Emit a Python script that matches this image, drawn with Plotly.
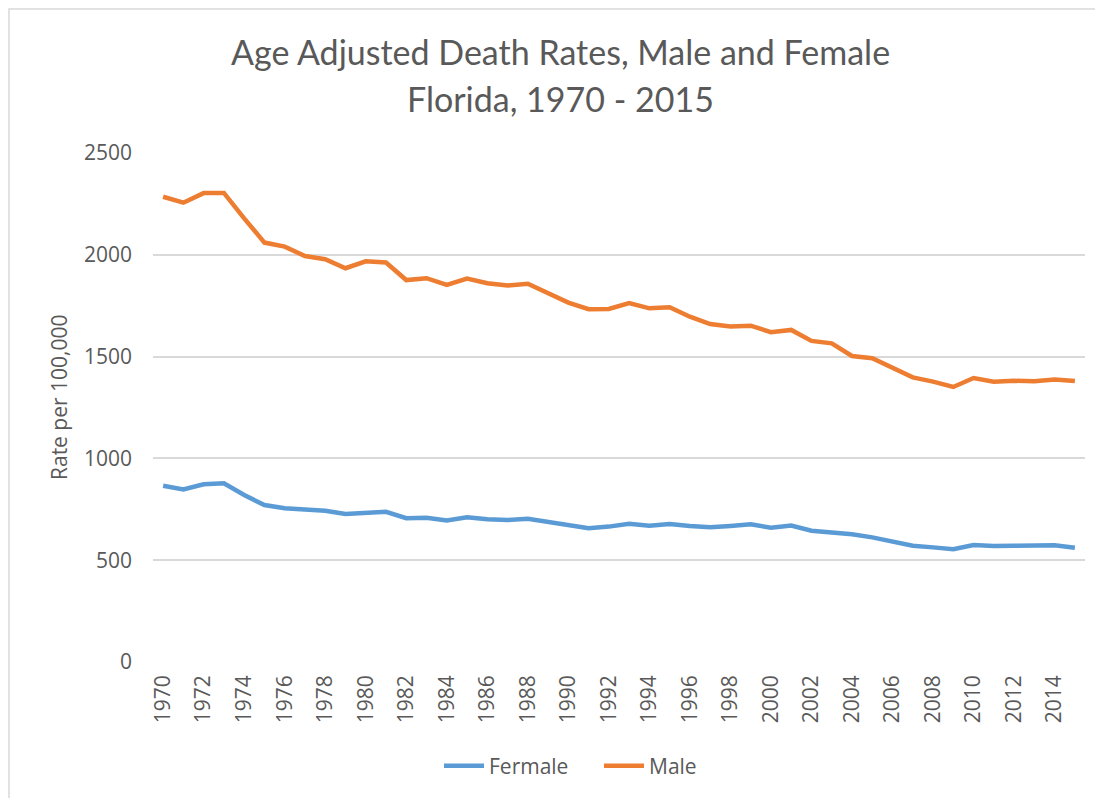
import plotly.graph_objects as go

years = list(range(1970, 2016))
female = [866, 848, 873, 878, 820, 771, 755, 748, 743, 727,
          735, 738, 706, 709, 695, 711, 701, 697, 704, 689,
          671, 657, 665, 679, 669, 678, 668, 662, 668, 676,
          660, 670, 645, 637, 627, 612, 593, 571, 563, 554,
          575, 570, 571, 573, 573, 561]
male = [2285, 2256, 2303, 2304, 2179, 2060, 2040, 1994, 1978, 1934,
        1968, 1962, 1876, 1885, 1852, 1883, 1860, 1849, 1858, 1811,
        1765, 1733, 1734, 1763, 1737, 1742, 1696, 1660, 1648, 1652,
        1620, 1631, 1577, 1565, 1503, 1492, 1442, 1398, 1377, 1351,
        1395, 1377, 1381, 1379, 1387, 1380]
tick_years = list(range(1970, 2015, 2))
y_ticks = [0, 500, 1000, 1500, 2000, 2500]
title_lines = ["Age Adjusted Death Rates, Male and Female", "Florida, 1970 - 2015"]
y_title = "Rate per 100,000"

GREY = "#595959"
TICKFONT = dict(family="Open Sans", size=21, color=GREY)

# page body has an 8px margin: figure origin sits at (8, 8) on screen
L, T, PW, PH = 145, 145, 932, 509
SX0, SY0 = 153, 662  # screen position of plot-area bottom-left


def px(x):
    return (x - SX0) / PW


def py(y):
    return (SY0 - y) / PH


fig = go.Figure()
fig.add_trace(go.Scatter(x=years, y=female, mode="lines", name="Fermale",
                         line=dict(color="#5B9BD5", width=4.5)))
fig.add_trace(go.Scatter(x=years, y=male, mode="lines", name="Male",
                         line=dict(color="#ED7D31", width=4.5)))

fig.update_layout(
    width=1095, height=790,
    margin=dict(l=L, r=18, t=T, b=136),
    paper_bgcolor="white", plot_bgcolor="white",
    showlegend=True,
    legend=dict(orientation="h", x=px(439), xanchor="left", y=py(766), yanchor="middle",
                font=dict(family="Open Sans", size=21, color=GREY),
                entrywidth=105, entrywidthmode="pixels",
                itemwidth=40, tracegroupgap=0),
    xaxis=dict(range=[1969.5, 2015.5], tickmode="array", tickvals=tick_years,
               ticktext=[str(t) for t in tick_years], tickangle=-90,
               showgrid=False, zeroline=False, showline=False, ticks="",
               tickfont=TICKFONT, ticklabelstandoff=8),
    yaxis=dict(range=[0, 2500], tickmode="array", tickvals=y_ticks,
               showgrid=True, gridcolor="#d9d9d9", gridwidth=1.5,
               zeroline=False, showline=False, ticks="",
               tickfont=TICKFONT, ticklabelstandoff=20),
    shapes=[dict(type="rect", xref="paper", yref="paper",
                 x0=(1 - L) / PW, x1=1.05, y0=-0.4, y1=1 + (T - 1) / PH,
                 line=dict(color="#d9d9d9", width=1.5), fillcolor="rgba(0,0,0,0)",
                 layer="below")],
    annotations=[
        dict(text=title_lines[0], xref="paper", yref="paper",
             x=px(560), y=py(52), xanchor="center", yanchor="middle",
             showarrow=False, font=dict(family="Lato", size=34, color=GREY)),
        dict(text=title_lines[1], xref="paper", yref="paper",
             x=px(560), y=py(99), xanchor="center", yanchor="middle",
             showarrow=False, font=dict(family="Lato", size=34, color=GREY)),
        dict(text=y_title, xref="paper", yref="paper", textangle=-90,
             x=px(59), y=py(397), xanchor="center", yanchor="middle",
             showarrow=False, font=dict(family="Open Sans", size=21, color=GREY)),
    ],
)

fig.write_html("out.html")
